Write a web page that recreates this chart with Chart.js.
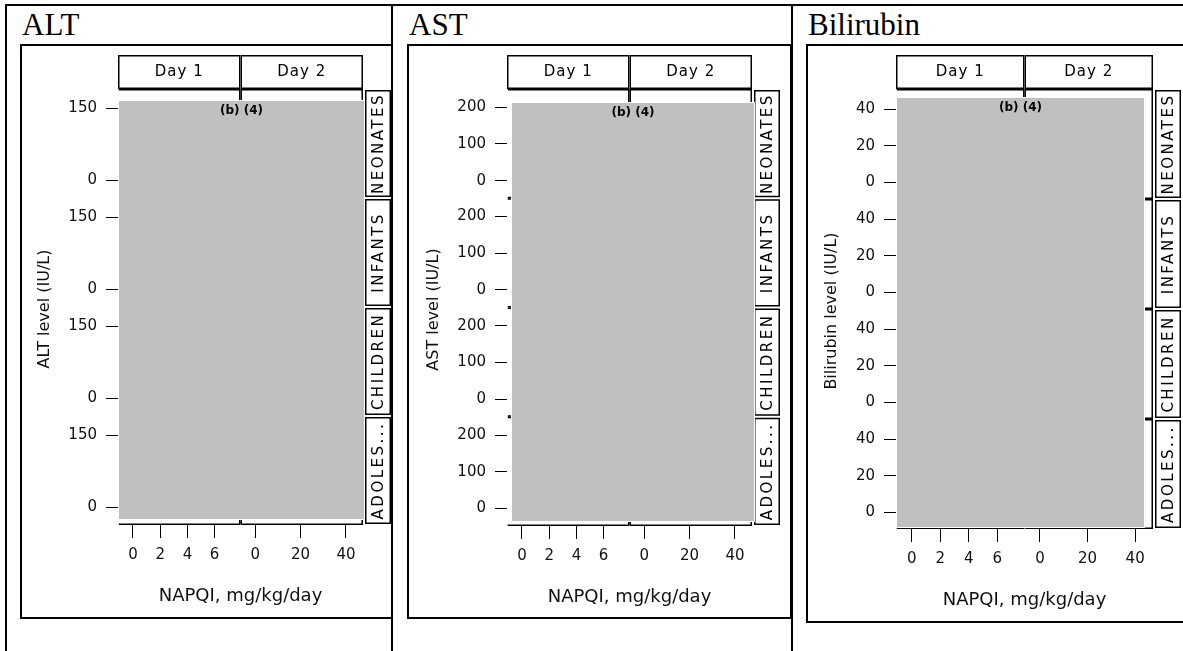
<!DOCTYPE html>
<html>
<head>
<meta charset="utf-8">
<script src="https://cdn.jsdelivr.net/npm/chart.js@4.4.1/dist/chart.umd.min.js"></script>
<style>
  body { margin: 0; background: #fff; }
  #page { position: relative; width: 1183px; height: 651px; overflow: hidden; }
  .rule { position: absolute; background: #000; }
  .title { position: absolute; top: 9px; font: 31px/31px "Liberation Serif", "Times New Roman", serif; color: #000; white-space: nowrap; }
  .frame { position: absolute; border: 2px solid #000; box-sizing: border-box; }
  canvas { position: absolute; }
</style>
</head>
<body>
<div id="page"></div>
<script>
'use strict';

// values
const days = ['Day 1', 'Day 2'];
const groups = ['NEONATES', 'INFANTS', 'CHILDREN', 'ADOLES...'];
const day1Ticks = [0, 2, 4, 6];
const day2Ticks = [0, 20, 40];
const day1Range = [-1.1, 7.9];
const day2Range = [-6.5, 47.5];
const altTicks = [0, 150];
const altRange = [-37, 190];
const astTicks = [0, 100, 200];
const astRange = [-48, 250];
const biliTicks = [0, 20, 40];
const biliRange = [-9, 51];
const panelTitles = ['ALT', 'AST', 'Bilirubin'];
const yTitles = ['ALT level (IU/L)', 'AST level (IU/L)', 'Bilirubin level (IU/L)'];
const xTitle = 'NAPQI, mg/kg/day';
const redactLabel = '(b) (4)';
// the points themselves are blacked out in the source, nothing readable
const points = [];

const FONT = 'DejaVu Sans';

// box = [left, top, width, height] of the plot frame on the page
// redact = [left inset, right overhang, top inset, bottom inset] of the grey box
const cells = [
  { title: panelTitles[0], yTitle: yTitles[0], ticks: altTicks, range: altRange,
    box: [20, 44, 373, 575], pad: { left: 38, right: 30, top: 45, bottom: 54 }, redact: [1, 1, 12, 6] },
  { title: panelTitles[1], yTitle: yTitles[1], ticks: astTicks, range: astRange,
    box: [407, 44, 385, 575], pad: { left: 40, right: 40, top: 45, bottom: 53 }, redact: [5, 2, 14, 5] },
  { title: panelTitles[2], yTitle: yTitles[2], ticks: biliTicks, range: biliRange,
    box: [806, 44, 380, 579], pad: { left: 30, right: 33, top: 45, bottom: 54 }, redact: [1, -9, 9, 2] },
];

const page = document.getElementById('page');

function el(cls, css, text) {
  const d = document.createElement('div');
  d.className = cls;
  Object.assign(d.style, css);
  if (text) d.textContent = text;
  page.appendChild(d);
  return d;
}

// table rules
el('rule', { left: '5px', top: '4px', width: '1178px', height: '2px' });
el('rule', { left: '5px', top: '4px', width: '2px', height: '647px' });
el('rule', { left: '391px', top: '4px', width: '2px', height: '647px' });
el('rule', { left: '791px', top: '4px', width: '2px', height: '647px' });

function xScale(ticks, range) {
  return {
    type: 'linear',
    position: 'bottom',
    stack: 'cols',
    stackWeight: 1,
    min: range[0],
    max: range[1],
    afterBuildTicks: s => { s.ticks = ticks.map(v => ({ value: v })); },
    afterFit: s => { s.height = 40; },
    border: { display: false },
    grid: { drawOnChartArea: false, drawTicks: true, tickLength: 13, color: '#000', lineWidth: 1 },
    ticks: { color: '#111', font: { family: FONT, size: 15 }, padding: 8, maxRotation: 0, autoSkip: false },
  };
}

function yScale(ticks, range) {
  return {
    type: 'linear',
    position: 'left',
    stack: 'rows',
    stackWeight: 1,
    min: range[0],
    max: range[1],
    afterBuildTicks: s => { s.ticks = ticks.map(v => ({ value: v })); },
    afterFit: s => { s.width = 60; },
    border: { display: false },
    grid: { drawOnChartArea: false, drawTicks: true, tickLength: 12, color: '#000', lineWidth: 1 },
    ticks: { color: '#111', font: { family: FONT, size: 15 }, padding: 9, autoSkip: false },
  };
}

function latticePlugin(cell) {
  return {
    id: 'lattice',
    afterDraw(chart) {
      const { ctx, chartArea: ca } = chart;
      const all = Object.values(chart.scales);
      const xs = all.filter(s => s.axis === 'x').sort((a, b) => a.left - b.left);
      const ys = all.filter(s => s.axis === 'y').sort((a, b) => a.top - b.top);

      ctx.save();
      ctx.strokeStyle = '#000';
      ctx.lineWidth = 1.5;

      // panel frames
      ys.forEach(y => xs.forEach((x, i) => {
        const L = x.left + 0.75, R = x.right - 0.75, T = y.top + 0.75, B = y.bottom - 0.75;
        ctx.beginPath();
        if (i > 0) { ctx.moveTo(L, B); ctx.lineTo(L, T); } else { ctx.moveTo(L, T); }
        ctx.lineTo(R, T);
        ctx.lineTo(R, B);
        ctx.lineTo(L, B);
        ctx.stroke();
      }));

      // top strips
      ctx.textAlign = 'center';
      ctx.textBaseline = 'middle';
      ctx.font = '15px "' + FONT + '"';
      xs.forEach((x, i) => {
        const top = ca.top - 34;
        ctx.fillStyle = '#fff';
        ctx.fillRect(x.left, top, x.right - x.left, 34);
        ctx.strokeRect(x.left + 0.75, top + 0.75, x.right - x.left - 1.5, 32.5);
        ctx.fillStyle = '#000';
        ctx.letterSpacing = '1px';
        ctx.fillText(days[i], (x.left + x.right) / 2, top + 17);
      });

      // right strips
      ys.forEach((y, j) => {
        const left = ca.right + 2, w = 26, top = y.top + 1, h = y.bottom - y.top - 2;
        ctx.fillStyle = '#fff';
        ctx.fillRect(left, top, w, h);
        ctx.strokeRect(left + 0.75, top + 0.75, w - 1.5, h - 1.5);
        ctx.save();
        ctx.beginPath();
        ctx.rect(left + 1.5, top + 1.5, w - 3, h - 3);
        ctx.clip();
        ctx.translate(left + w / 2, top + h / 2);
        ctx.rotate(-Math.PI / 2);
        ctx.fillStyle = '#000';
        ctx.letterSpacing = '2.5px';
        ctx.fillText(groups[j], 0, 1);
        ctx.restore();
      });

      // redaction box
      const [dl, dr, dt, db] = cell.redact;
      const gx = ca.left + dl, gy = ca.top + dt;
      const gw = ca.right + dr - gx, gh = ca.bottom - db - gy;
      ctx.fillStyle = '#c0c0c0';
      ctx.fillRect(gx, gy, gw, gh);
      ctx.strokeStyle = '#fff';
      ctx.lineWidth = 1;
      ctx.strokeRect(gx - 0.5, gy - 0.5, gw + 1, gh + 1);
      ctx.fillStyle = '#000';
      ctx.letterSpacing = '0px';
      ctx.font = 'bold 12px "' + FONT + '"';
      ctx.fillText(redactLabel, gx + gw / 2, gy + 9.5);

      // axis titles
      ctx.fillStyle = '#111';
      ctx.font = '15px "' + FONT + '"';
      const widest = Math.max(...cell.ticks.map(v => ctx.measureText(String(v)).width));
      ctx.font = '16px "' + FONT + '"';
      ctx.save();
      ctx.translate(ca.left - 21 - widest - 24, (ca.top + ca.bottom) / 2 + 2);
      ctx.rotate(-Math.PI / 2);
      ctx.fillText(cell.yTitle, 0, 0);
      ctx.restore();

      ctx.font = '18px "' + FONT + '"';
      ctx.textBaseline = 'alphabetic';
      ctx.fillText(xTitle, (ca.left + ca.right) / 2, ca.bottom + 76);
      ctx.restore();
    },
  };
}

cells.forEach(cell => {
  const [bx, by, bw, bh] = cell.box;
  el('title', { left: (bx + 2) + 'px' }, cell.title);

  const canvas = document.createElement('canvas');
  canvas.width = bw;
  canvas.height = bh;
  canvas.style.left = bx + 'px';
  canvas.style.top = by + 'px';
  page.appendChild(canvas);
  el('frame', { left: bx + 'px', top: by + 'px', width: bw + 'px', height: bh + 'px' });

  const scales = {};
  days.forEach((d, i) => {
    scales['x' + i] = xScale(i ? day2Ticks : day1Ticks, i ? day2Range : day1Range);
  });
  groups.forEach((g, j) => {
    scales['y' + j] = yScale(cell.ticks, cell.range);
  });

  const datasets = [];
  groups.forEach((g, j) => days.forEach((d, i) => {
    datasets.push({
      label: g + ' ' + d,
      data: points.slice(),
      xAxisID: 'x' + i,
      yAxisID: 'y' + j,
      pointRadius: 2,
      backgroundColor: '#000',
    });
  }));

  new Chart(canvas.getContext('2d'), {
    type: 'scatter',
    data: { datasets },
    options: {
      responsive: false,
      animation: false,
      layout: { padding: cell.pad },
      plugins: { legend: { display: false }, tooltip: { enabled: false } },
      scales,
    },
    plugins: [latticePlugin(cell)],
  });
});
</script>
</body>
</html>
